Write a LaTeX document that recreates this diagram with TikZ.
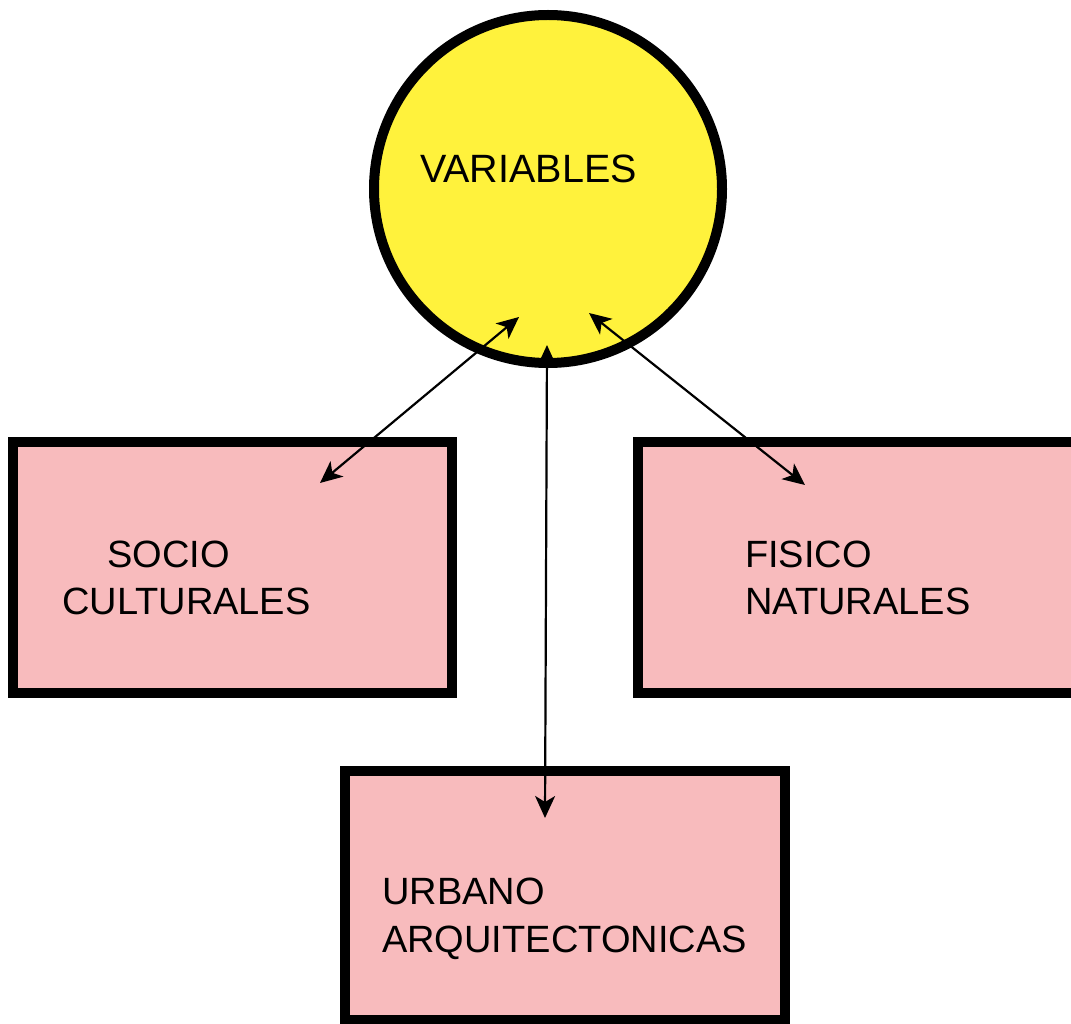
\documentclass[tikz,border=0pt]{standalone}
\usepackage{fontspec}
\setmainfont{Liberation Sans}
\usetikzlibrary{arrows.meta}
\definecolor{varyellow}{RGB}{255,242,60}
\definecolor{boxpink}{RGB}{248,187,189}
\begin{document}
\begin{tikzpicture}[x=1pt,y=-1pt,
  varcircle/.style={circle,draw=black,line width=10pt,fill=varyellow,minimum size=348pt,inner sep=0pt},
  catbox/.style={rectangle,draw=black,line width=10pt,fill=boxpink,inner sep=0pt},
  lbl/.style={anchor=base west,inner sep=0pt,font=\fontsize{38}{45}\selectfont},
  link/.style={line width=2.2pt,{Stealth[length=22pt,width=20pt,inset=6pt]}-{Stealth[length=22pt,width=20pt,inset=6pt]}}]
\useasboundingbox (0,0) rectangle (1071,1024);
\clip (0,0) rectangle (1071,1024);
\node[varcircle] (var) at (548,189) {};
\node[catbox,minimum width=439pt,minimum height=251pt] (soc) at (232.5,567.5) {};
\node[catbox,minimum width=442pt,minimum height=251pt] (fis) at (859,567.5) {};
\node[catbox,minimum width=440pt,minimum height=249pt] (urb) at (565,895.5) {};
\node[lbl,font=\fontsize{39.5}{46}\selectfont] (tvar) at (420,183) {VARIABLES};
\node[lbl] (tsoc1) at (107,567) {SOCIO};
\node[lbl] (tsoc2) at (62,614) {CULTURALES};
\node[lbl] (tfis1) at (745,567) {FISICO};
\node[lbl] (tfis2) at (745,614) {NATURALES};
\node[lbl] (turb1) at (382,904) {URBANO};
\node[lbl] (turb2) at (382,952) {ARQUITECTONICAS};
\coordinate (vL) at (519,317);
\coordinate (vM) at (547,345);
\coordinate (vR) at (589,313);
\coordinate (sT) at (320,483);
\coordinate (fT) at (805,485);
\coordinate (uT) at (545,818);
\draw[link] (sT) -- (vL);
\draw[link] (fT) -- (vR);
\draw[link] (uT) -- (vM);
\end{tikzpicture}
\end{document}
